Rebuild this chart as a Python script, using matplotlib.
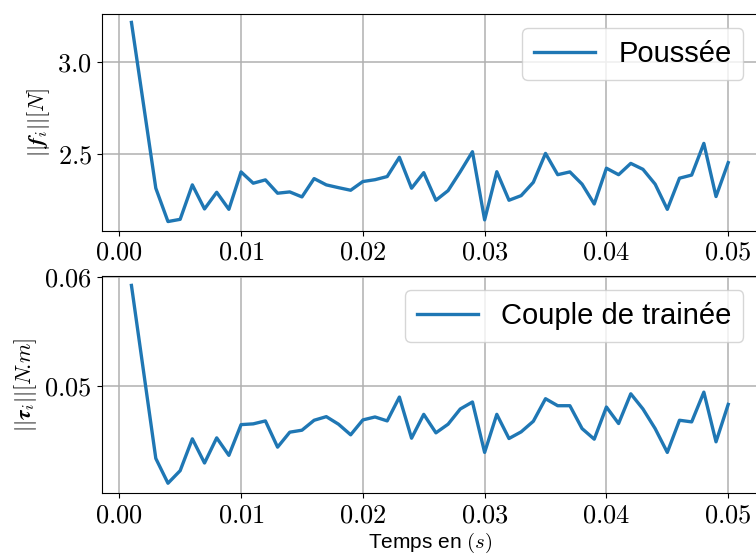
import matplotlib
matplotlib.use("Agg")
import matplotlib.pyplot as plt
from matplotlib.ticker import FuncFormatter
import numpy as np

plt.rcParams['font.family'] = ['Liberation Sans', 'DejaVu Sans']
plt.rcParams['mathtext.fontset'] = 'cm'

# temps (s)
temps = np.arange(1, 51) / 1000

# norme de la poussee [N]
poussee = [3.212, 2.765, 2.317, 2.137, 2.149, 2.335, 2.205, 2.295, 2.203, 2.405,
           2.344, 2.362, 2.290, 2.297, 2.270, 2.369, 2.335, 2.320, 2.306, 2.353,
           2.363, 2.380, 2.484, 2.317, 2.401, 2.252, 2.304, 2.406, 2.514, 2.146,
           2.406, 2.252, 2.277, 2.349, 2.505, 2.390, 2.405, 2.339, 2.232, 2.425,
           2.390, 2.451, 2.419, 2.339, 2.203, 2.371, 2.388, 2.559, 2.272, 2.455]

# norme du couple de trainee [N.m]
couple = [0.05921, 0.0513, 0.04339, 0.04112, 0.04227, 0.04518, 0.04297, 0.04527, 0.04367, 0.04648,
          0.04655, 0.04682, 0.04442, 0.04579, 0.04597, 0.04688, 0.04721, 0.04652, 0.04555, 0.04691,
          0.04718, 0.04682, 0.04900, 0.04524, 0.04742, 0.04573, 0.04652, 0.04791, 0.04855, 0.04394,
          0.04742, 0.04521, 0.04582, 0.04679, 0.04885, 0.04821, 0.04821, 0.04612, 0.04515, 0.04809,
          0.04658, 0.04930, 0.04791, 0.04612, 0.04394, 0.04688, 0.04673, 0.04945, 0.04491, 0.04833]

fig = plt.figure(figsize=(7.56, 5.6), dpi=100)
ax1 = fig.add_axes([0.1344, 0.5875, 0.8683, 0.388])
ax2 = fig.add_axes([0.1344, 0.1191, 0.8683, 0.3886])

ax1.plot(temps, poussee, color='#1f77b4', lw=2.4, label='Poussée')
ax2.plot(temps, couple, color='#1f77b4', lw=2.4, label='Couple de trainée')

ax1.set_ylim(2.086, 3.259)
ax2.set_ylim(0.0402, 0.0601)
ax1.set_yticks([2.5, 3.0])
ax2.set_yticks([0.05, 0.06])

for ax in (ax1, ax2):
    ax.set_xlim(-0.00145, 0.05245)
    ax.set_xticks([0.0, 0.01, 0.02, 0.03, 0.04, 0.05])
    ax.xaxis.set_major_formatter(FuncFormatter(lambda v, p: '$%.2f$' % v))
    ax.grid(True, color='#b0b0b0', lw=1.1)
    ax.tick_params(labelsize=19)
    ax.legend(loc='upper right', fontsize=21, handlelength=2.1)

ax1.yaxis.set_major_formatter(FuncFormatter(lambda v, p: '$%.1f$' % v))
ax2.yaxis.set_major_formatter(FuncFormatter(lambda v, p: '$%.2f$' % v))

ax1.set_ylabel(r'$||\mathbfit{f}_i||[N]$', fontsize=16)
ax2.set_ylabel(r'$||\mathbfit{\tau}_i||[N\!.\!m]$', fontsize=16)
ax2.set_xlabel(r'Temps en $(s)$', fontsize=15, labelpad=3)

fig.savefig('out.png', dpi=100)
